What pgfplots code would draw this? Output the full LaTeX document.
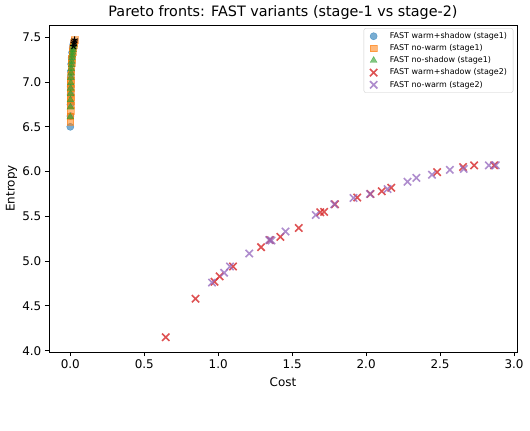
\documentclass[border=0pt]{standalone}
\usepackage{fontspec}
\setmainfont{DejaVu Sans}
\usepackage{pgfplots}
\pgfplotsset{compat=1.18}
\usetikzlibrary{plotmarks}
\definecolor{tblue}{HTML}{1F77B4}
\definecolor{torange}{HTML}{FF7F0E}
\definecolor{tgreen}{HTML}{2CA02C}
\definecolor{tred}{HTML}{D62728}
\definecolor{tpurple}{HTML}{9467BD}
\begin{document}
\begin{tikzpicture}
\begin{axis}[
  name=ax,
  scale only axis,
  width=468bp, height=327bp,
  xmin=-0.144, xmax=3.02, ymin=3.985, ymax=7.637,
  xtick={0,0.5,...,3}, ytick={4,4.5,...,7.5},
  tick pos=left, tick align=outside, major tick length=4.2bp,
  every tick/.style={black, line width=0.9bp},
  axis line style={line width=0.9bp},
  /pgf/number format/.cd, fixed, fixed zerofill, precision=1, assume math mode=true,
  /pgfplots/.cd,
  ticklabel style={font=\fontsize{12}{14}\selectfont},
  every axis title shift=0pt,
  title={Pareto fronts: FAST variants (stage-1 vs stage-2)},
  title style={at={(axis description cs:0.5,1.026)}, anchor=base, inner sep=0pt, font=\fontsize{14.4}{16}\selectfont},
  xlabel={Cost}, ylabel={Entropy},
  xlabel style={at={(axis description cs:0.5,-0.107)}, anchor=base, inner sep=0pt, font=\fontsize{12}{14}\selectfont},
  ylabel style={at={(axis description cs:-0.0737,0.5)}, anchor=base, inner sep=0pt, font=\fontsize{12}{14}\selectfont},
  legend style={at={(0.992,0.99)}, anchor=north east, font=\fontsize{8}{9.5}\selectfont,
    draw=black!20, rounded corners=2bp, fill=white, fill opacity=0.8, text opacity=1,
    row sep=0.6bp, inner xsep=4bp, inner ysep=2bp},
  legend image code/.code={\node[draw=none, fill=none, inner sep=0pt, minimum width=20bp, minimum height=1bp] at (-6bp,0bp) {}; \draw[#1] plot coordinates {(0bp,0bp)};},
  legend cell align=left,
]
\addplot[only marks, mark=*, mark size=3.6bp, tblue, mark options={draw=tblue, fill=tblue, fill opacity=0.6, draw opacity=0.6}]
coordinates {(0.000,6.50)(0.001,6.62)(0.001,6.75)(0.002,6.86)(0.002,6.95)(0.003,7.05)(0.004,7.12)(0.006,7.20)(0.009,7.27)(0.012,7.33)(0.016,7.38)(0.020,7.42)(0.025,7.45)};
\addlegendentry{FAST warm+shadow (stage1)}
\addplot[only marks, mark=square*, mark size=3.3bp, torange, mark options={draw=torange, fill=torange, fill opacity=0.55, draw opacity=0.55}]
coordinates {(0.000,6.56)(0.000,6.62)(0.001,6.68)(0.001,6.74)(0.001,6.79)(0.002,6.83)(0.002,6.88)(0.002,6.93)(0.003,6.98)(0.003,7.02)(0.004,7.07)(0.005,7.12)(0.006,7.16)(0.008,7.21)(0.010,7.26)(0.012,7.30)(0.015,7.34)(0.018,7.38)(0.021,7.41)(0.025,7.44)(0.030,7.47)};
\addlegendentry{FAST no-warm (stage1)}
\addplot[only marks, mark=triangle*, mark size=4bp, tgreen, mark options={draw=tgreen, fill=tgreen, fill opacity=0.6, draw opacity=0.6}]
coordinates {(0.000,6.61)(0.001,6.72)(0.001,6.80)(0.002,6.87)(0.002,6.93)(0.003,6.99)(0.004,7.05)(0.005,7.10)(0.006,7.15)(0.008,7.19)(0.010,7.23)(0.012,7.27)(0.014,7.30)(0.016,7.33)(0.018,7.36)(0.021,7.39)(0.024,7.42)};
\addlegendentry{FAST no-shadow (stage1)}
\addplot[only marks, mark=x, mark size=5.2bp, tred, mark options={draw=tred, line width=1.6bp, draw opacity=0.8}]
coordinates {(0.645,4.15)(0.847,4.58)(0.975,4.77)(1.01,4.83)(1.10,4.94)(1.29,5.155)(1.35,5.235)(1.42,5.27)(1.545,5.37)(1.69,5.545)(1.716,5.55)(1.79,5.635)(1.94,5.71)(2.03,5.75)(2.105,5.78)(2.17,5.82)(2.48,5.995)(2.655,6.05)(2.73,6.07)(2.865,6.07)};
\addlegendentry{FAST warm+shadow (stage2)}
\addplot[only marks, mark=x, mark size=5.2bp, tpurple, mark options={draw=tpurple, line width=1.6bp, draw opacity=0.75}]
coordinates {(0.958,4.76)(1.04,4.87)(1.08,4.94)(1.21,5.085)(1.345,5.235)(1.36,5.23)(1.455,5.33)(1.66,5.515)(1.785,5.635)(1.915,5.705)(2.026,5.75)(2.145,5.805)(2.28,5.887)(2.34,5.93)(2.445,5.965)(2.566,6.02)(2.66,6.03)(2.83,6.07)(2.876,6.07)};
\addlegendentry{FAST no-warm (stage2)}
\addplot[only marks, mark=star, mark size=3.5bp, black, mark options={draw=black, line width=1bp}, forget plot]
coordinates {(0.022,7.40)(0.025,7.43)(0.027,7.45)(0.030,7.47)};
\end{axis}
\pgfresetboundingbox
\path ([xshift=-49bp,yshift=-79bp]ax.south west) rectangle ([xshift=13bp,yshift=25bp]ax.north east);
\end{tikzpicture}
\end{document}
